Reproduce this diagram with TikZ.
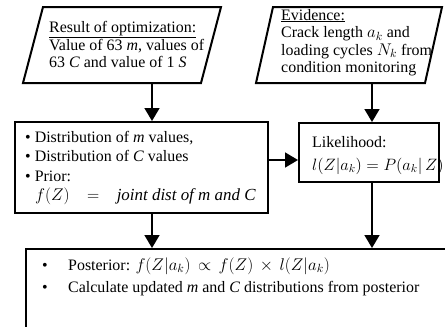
\RequirePackage{fix-cm}
\documentclass[tikz,border=0pt]{standalone}
\usepackage{fontspec}
\setmainfont{Liberation Serif}
\usetikzlibrary{arrows.meta}
\newcommand{\mymath}[2][17]{{\fontsize{#1}{18}\selectfont$#2$}}
\begin{document}
\begin{tikzpicture}[x=1bp,y=-1bp,
  boxline/.style={line width=2bp},
  arr/.style={line width=1.6bp,-{Triangle[width=15bp,length=13bp]}},
  txt/.style={anchor=base west, inner sep=0pt, font=\fontsize{16}{18}\selectfont}]
\useasboundingbox (0,0) rectangle (445,326);
\begin{scope}
\clip (0,0) rectangle (445,326);
% parallelogram 1
\draw[boxline] (43,7) coordinate (p1tl) -- (221,7) coordinate (p1tr) -- (201,83) coordinate (p1br) -- (23,83) coordinate (p1bl) -- cycle;
\coordinate (p1b) at (152,83);
% parallelogram 2
\draw[boxline] (273,7) coordinate (p2tl) -- (442,7) coordinate (p2tr) -- (425,83) coordinate (p2br) -- (256,83) coordinate (p2bl) -- cycle;
\coordinate (p2b) at (372,83);
% boxes
\node[draw, boxline, anchor=north west, inner sep=0pt, minimum width=253bp, minimum height=91bp] (lb) at (14,121) {};
\node[draw, boxline, anchor=north west, inner sep=0pt, minimum width=140bp, minimum height=59bp] (lk) at (298,122) {};
\node[draw, boxline, anchor=north west, inner sep=0pt, minimum width=440bp, minimum height=100bp] (bb) at (25,248) {};
% arrows
\draw[arr] (p1b) -- (p1b |- lb.north);
\draw[arr] (p2b) -- (p2b |- lk.north);
\coordinate (hy) at (0,160);
\draw[arr] (lb.east |- hy) -- (lk.west |- hy);
\coordinate (ax1) at (152,0);
\coordinate (ax2) at (372,0);
\draw[arr] (ax1 |- lb.south) -- (ax1 |- bb.north);
\draw[arr] (ax2 |- lk.south) -- (ax2 |- bb.north);
% texts parallelogram 1
\node[txt] (r1) at (49,32) {\underline{Result of optimization:}};
\node[txt] (r2) at (49,50) {Value of 63 \textit{m}, values of};
\node[txt] (r3) at (49,67.5) {63 \textit{C} and value of 1 \textit{S}};
% texts parallelogram 2
\node[txt] (e1) at (281,20) {\underline{Evidence:}};
\node[txt] (e2) at (281,37.5) {Crack length \mymath{a_k} and};
\node[txt] (e3) at (281,55) {loading cycles \mymath{N_k} from};
\node[txt] (e4) at (281,72.5) {condition monitoring};
% left box texts
\node[txt] (l1) at (25,142) {\textbullet\ Distribution of \textit{m} values,};
\node[txt] (l2) at (25,161.5) {\textbullet\ Distribution of \textit{C} values};
\node[txt] (l3) at (25,181) {\textbullet\ Prior:};
\node[txt] (l4) at (35,200.5) {\mymath{f(Z)\ \ \ =\ \ \ \mathit{joint\ dist\ of\ m\ and\ C}}};
% likelihood texts
\node[txt] (k1) at (312,147) {Likelihood:};
\node[txt] (k2) at (312,170) {\mymath[16.5]{l(Z|a_k) = P(a_k|\,Z)}};
% bottom texts
\node[txt] (b0) at (42,270) {\textbullet};
\node[txt] (b1) at (68,270) {Posterior: \mymath{f(Z|a_k)\,\propto\,f(Z)\,\times\,l(Z|a_k)}};
\node[txt] (c0) at (42,292) {\textbullet};
\node[txt] (c1) at (68,292) {Calculate updated \textit{m} and \textit{C} distributions from posterior};
\end{scope}
\end{tikzpicture}
\end{document}
